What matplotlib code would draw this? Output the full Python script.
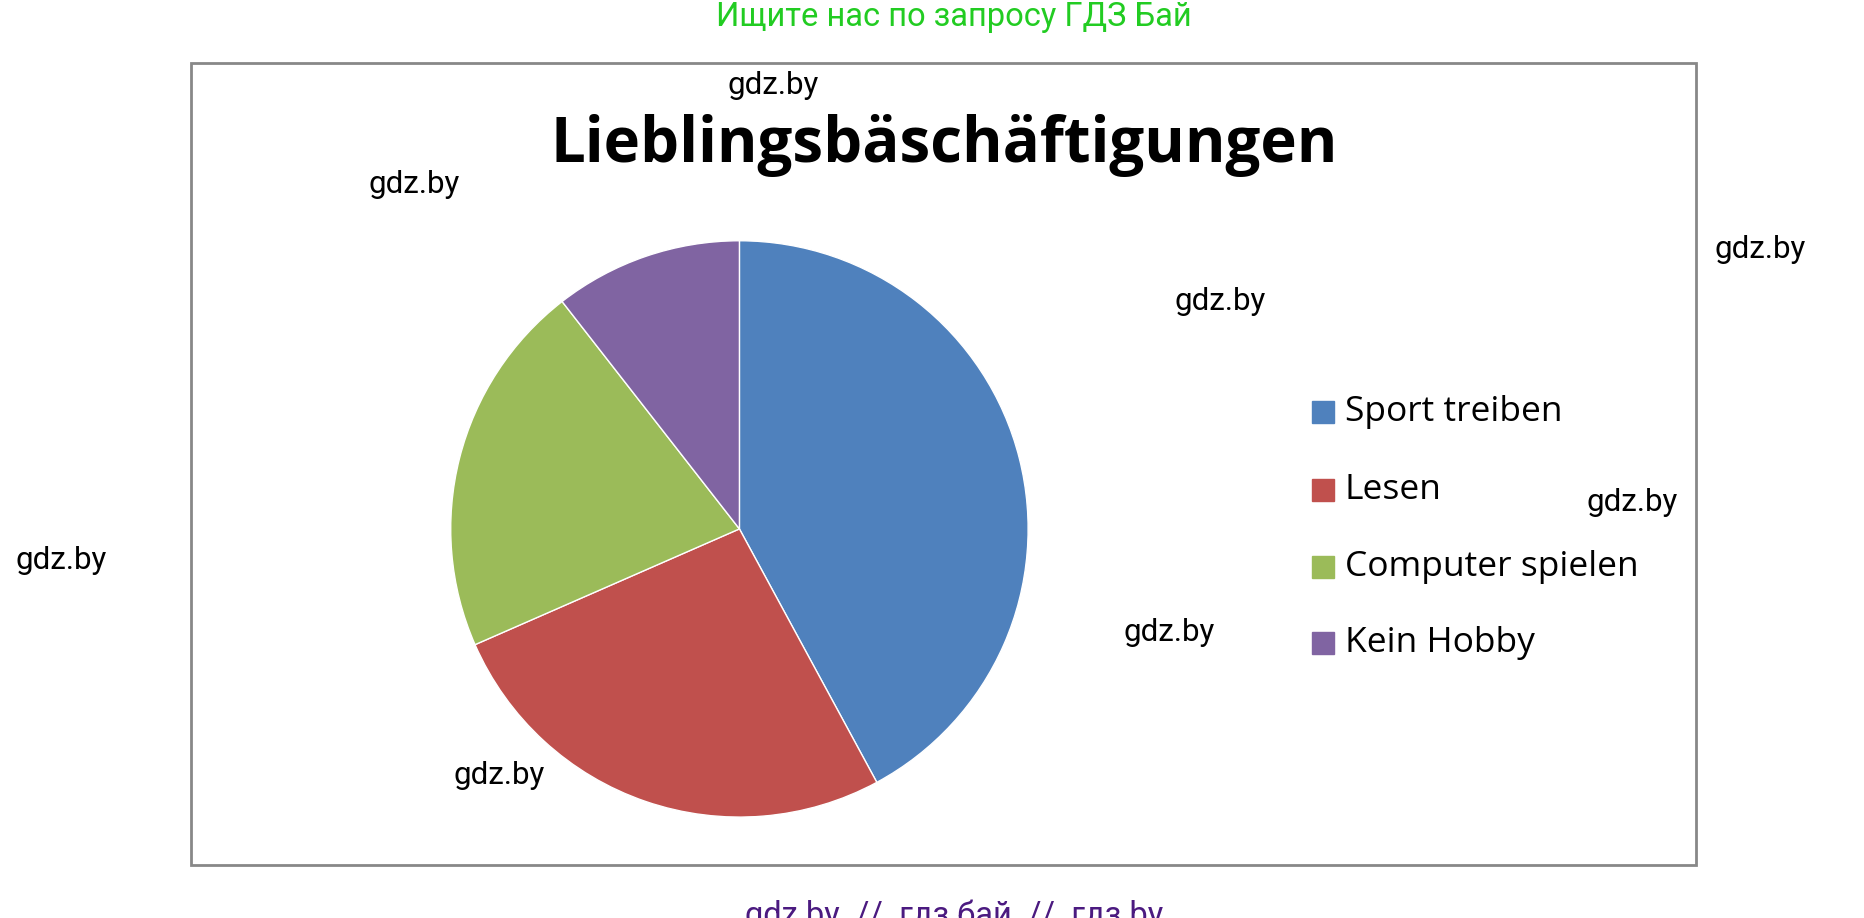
import matplotlib
matplotlib.use("Agg")
import matplotlib.pyplot as plt
from matplotlib.patches import Rectangle

labels = ["Sport treiben", "Lesen", "Computer spielen", "Kein Hobby"]
values = [8, 5, 4, 2]
colors = ["#4f81bd", "#c0504d", "#9bbb59", "#8064a2"]
title = "Lieblingsbäschäftigungen"

W, H = 1531.0, 755.0
def fx(x): return x / W
def fy(y): return 1 - y / H

fig = plt.figure(figsize=(18.65, 9.18), dpi=100)
fig.patch.set_facecolor("white")

fig.patches.append(Rectangle((fx(157), fy(711)), fx(1392) - fx(157), fy(52) - fy(711),
                             transform=fig.transFigure, fill=False, edgecolor="#888888", lw=2))

# pie: center (607,435), radius 237 (reference display units)
cx, cy, r = 607, 435, 237
ax = fig.add_axes([fx(cx - r), fy(cy + r), 2 * r / W, 2 * r / H])
ax.pie(values, colors=colors, startangle=90, counterclock=False,
       wedgeprops=dict(edgecolor="white", linewidth=1))
ax.set_xlim(-1, 1)
ax.set_ylim(-1, 1)
ax.set_aspect("auto")

fig.text(fx(775), fy(120), title, ha="center", va="center", fontsize=44.5,
         fontweight="bold", family="Open Sans")

ys = [339, 403, 466, 529]
for lab, col, y in zip(labels, colors, ys):
    s = 18
    fig.patches.append(Rectangle((fx(1077), fy(y) - (s / 2) / H), s / W, s / H,
                                 transform=fig.transFigure, color=col))
    fig.text(fx(1104), fy(y), lab, ha="left", va="center", fontsize=25.5, family="Open Sans")

for (x, y) in [(635, 70), (340, 152), (1445, 205), (1002, 248), (1340, 413),
               (50, 461), (960, 520), (410, 638)]:
    fig.text(fx(x), fy(y), "gdz.by", ha="center", va="center", fontsize=22.5, family="Roboto")

fig.text(fx(783), fy(14), "Ищите нас по запросу ГДЗ Бай", ha="center", va="center",
         fontsize=23.5, family="Roboto", color="#22cc22")
fig.text(fx(783), fy(753), "gdz by  //  гдз бай  //  гдз by", ha="center", va="center",
         fontsize=23.5, family="Roboto", color="#4b1a80")

fig.savefig("out.png", dpi=100, facecolor="white")
